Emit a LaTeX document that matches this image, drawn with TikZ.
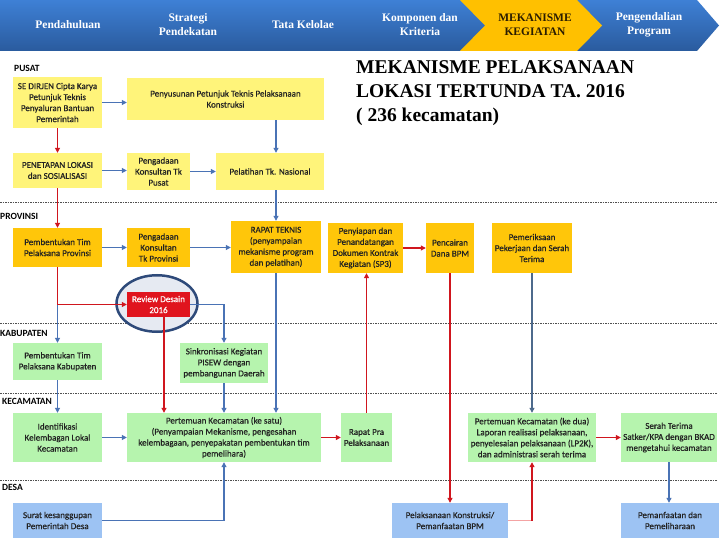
\documentclass[tikz,border=0pt]{standalone}
\usepackage{fontspec}
\setmainfont{Liberation Serif}
\newfontfamily\boxfont{Carlito}
\newfontfamily\boxtxt[FakeBold=0.6]{Carlito}
\usetikzlibrary{arrows.meta,shapes.geometric}
\definecolor{hdtop}{HTML}{3E80D5}
\definecolor{hdbot}{HTML}{2A5B9E}
\definecolor{hdyel}{HTML}{FFC000}
\definecolor{hddark}{HTML}{2B1D00}
\definecolor{cPus}{HTML}{FFF47A}
\definecolor{cProv}{HTML}{FFC60A}
\definecolor{cGrn}{HTML}{B6F4AE}
\definecolor{cDesa}{HTML}{9DC3F3}
\definecolor{cRed}{HTML}{E0141E}
\definecolor{arb}{HTML}{4A73B5}
\definecolor{arg}{HTML}{4D6A8C}
\definecolor{arr}{HTML}{D0161E}
\definecolor{pinkc}{HTML}{F4A3A3}
\definecolor{ellc}{HTML}{2E4A7A}
\definecolor{ellf}{HTML}{E6EAF2}
\definecolor{sepc}{HTML}{505050}
\definecolor{txt}{HTML}{222222}
\begin{document}
\begin{tikzpicture}[x=1pt,y=-1pt,
  bx/.style={inner sep=1pt, align=center, text=txt, font=\boxtxt\fontsize{9}{11}\selectfont},
  tip/.style={-{Triangle[length=5pt,width=5pt]}},
  ab/.style={draw=arb, line width=1.1pt, tip},
  abg/.style={draw=arg, line width=1.1pt, tip},
  ar/.style={draw=arr, line width=1.1pt, tip},
  sepline/.style={draw=sepc, line width=0.8pt, dash pattern=on 1.5pt off 1pt},
  lab/.style={anchor=west, inner sep=0pt, text=black, font=\boxfont\bfseries\fontsize{9.5}{11}\selectfont},
  hd/.style={text=white, align=center, inner sep=0pt, font=\bfseries\fontsize{11.5}{14}\selectfont}
]
\useasboundingbox (0,0) rectangle (720,540);
\fill[white] (0,0) rectangle (720,540);

% header
\shade[top color=hdtop, bottom color=hdbot] (0,0) -- (697,0) -- (719,25.5) -- (697,51) -- (0,51) -- cycle;
\fill[hdyel] (460,0) -- (577,0) -- (602,25.5) -- (577,51) -- (460,51) -- (485,25.5) -- cycle;
\node[hd] (h1) at (68,25) {Pendahuluan};
\node[hd] (h2) at (188,25) {Strategi\\Pendekatan};
\node[hd] (h3) at (303,25) {Tata Kelolae};
\node[hd] (h4) at (420,25) {Komponen dan\\Kriteria};
\node[hd, text=hddark] (h5) at (535,25) {MEKANISME\\KEGIATAN};
\node[hd] (h6) at (649,25) {Pengendalian\\Program};

% title
\node[anchor=north west, inner sep=0pt, align=left, font=\bfseries\fontsize{19.5}{24}\selectfont] (title) at (356,60) {MEKANISME PELAKSANAAN\\LOKASI TERTUNDA TA. 2016\\( 236 kecamatan)};

% separators and level labels
\draw[sepline] (0,202) -- (717,202);
\draw[sepline] (0,323) -- (717,323);
\draw[sepline] (0,393) -- (717,393);
\draw[sepline] (0,480) -- (717,480);
\node[lab] (lpus) at (14,68) {PUSAT};
\node[lab] (lprov) at (0,216) {PROVINSI};
\node[lab] (lkab) at (0,333) {KABUPATEN};
\node[lab] (lkec) at (2,401) {KECAMATAN};
\node[lab] (ldesa) at (2,487) {DESA};

% highlight ellipse
\node[ellipse, draw=ellc, line width=2.5pt, fill=ellf, minimum width=81pt, minimum height=56.5pt, inner sep=0pt] (ell) at (157,303.5) {};

% PUSAT
\node[bx, fill=cPus, minimum width=89pt, minimum height=51pt] (se) at (57.5,102.5) {SE DIRJEN Cipta Karya\\Petunjuk Teknis\\Penyaluran Bantuan\\Pemerintah};
\node[bx, fill=cPus, minimum width=197pt, minimum height=42pt] (pen) at (225.5,99) {Penyusunan Petunjuk Teknis Pelaksanaan\\Konstruksi};
\node[bx, fill=cPus, minimum width=89pt, minimum height=35pt] (penet) at (57.5,170.5) {PENETAPAN LOKASI\\dan SOSIALISASI};
\node[bx, fill=cPus, minimum width=63pt, minimum height=37pt] (pkp) at (158.5,171.5) {Pengadaan\\Konsultan Tk\\Pusat};
\node[bx, fill=cPus, minimum width=108pt, minimum height=37pt] (pel) at (270,171.5) {Pelatihan Tk. Nasional};

% PROVINSI
\node[bx, fill=cProv, minimum width=89pt, minimum height=39pt] (pbp) at (57.5,247.5) {Pembentukan Tim\\Pelaksana Provinsi};
\node[bx, fill=cProv, minimum width=63pt, minimum height=39pt] (pkv) at (158.5,247.5) {Pengadaan\\Konsultan\\Tk Provinsi};
\node[bx, fill=cProv, minimum width=90pt, minimum height=52pt] (rt) at (276,247) {RAPAT TEKNIS\\(penyampaian\\mekanisme program\\dan pelatihan)};
\node[bx, fill=cProv, minimum width=75pt, minimum height=50pt] (spb) at (365.5,248) {Penyiapan dan\\Penandatangan\\Dokumen Kontrak\\Kegiatan (SP3)};
\node[bx, fill=cProv, minimum width=48pt, minimum height=50pt] (pcr) at (450,248) {Pencairan\\Dana BPM};
\node[bx, fill=cProv, minimum width=80pt, minimum height=50pt] (pmk) at (532,248) {Pemeriksaan\\Pekerjaan dan Serah\\Terima};
\node[bx, fill=cRed, text=white, minimum width=63pt, minimum height=25pt] (rev) at (158.5,304.5) {Review Desain\\2016};

% KABUPATEN
\node[bx, fill=cGrn, minimum width=89pt, minimum height=37pt] (pbk) at (57.5,361.5) {Pembentukan Tim\\Pelaksana Kabupaten};
\node[bx, fill=cGrn, minimum width=88pt, minimum height=40pt] (sink) at (224,363) {Sinkronisasi Kegiatan\\PISEW dengan\\pembangunan Daerah};

% KECAMATAN
\node[bx, fill=cGrn, minimum width=89pt, minimum height=49pt] (idf) at (57.5,437.5) {Identifikasi\\Kelembagan Lokal\\Kecamatan};
\node[bx, fill=cGrn, minimum width=194pt, minimum height=49pt] (pk1) at (224,437.5) {Pertemuan Kecamatan (ke satu)\\(Penyampaian Mekanisme, pengesahan\\kelembagaan, penyepakatan pembentukan tim\\pemelihara)};
\node[bx, fill=cGrn, minimum width=51pt, minimum height=49pt] (rpp) at (366.5,437.5) {Rapat Pra\\Pelaksanaan};
\node[bx, fill=cGrn, minimum width=128pt, minimum height=49pt] (pk2) at (532,437.5) {Pertemuan Kecamatan (ke dua)\\Laporan realisasi pelaksanaan,\\penyelesaian pelaksanaan (LP2K),\\dan administrasi serah terima};
\node[bx, fill=cGrn, minimum width=96pt, minimum height=49pt] (srh) at (669,437.5) {Serah Terima\\Satker/KPA dengan BKAD\\mengetahui kecamatan};

% DESA
\node[bx, fill=cDesa, minimum width=89pt, minimum height=35pt] (sur) at (57.5,520.5) {Surat kesanggupan\\Pemerintah Desa};
\node[bx, fill=cDesa, minimum width=116pt, minimum height=35pt] (plk) at (450,520.5) {Pelaksanaan Konstruksi/\\Pemanfaatan BPM};
\node[bx, fill=cDesa, minimum width=98pt, minimum height=35pt] (pmf) at (670,520.5) {Pemanfaatan dan\\Pemeliharaan};

% connectors
\coordinate (rx) at (164,0);
\draw[ab] (se.east) -- (se.east -| pen.west);
\draw[ar] (se.south) -- (penet.north);
\draw[ab] (pen.south -| rt) -- (pel.north -| rt);
\draw[ab] (penet.east) -- (penet.east -| pkp.west);
\draw[ab] (pkp.east) -- (pkp.east -| pel.west);
\draw[ab] (pel.south -| rt) -- (rt.north);
\draw[ar] (penet.south) -- (pbp.north);
\draw[ab] (pbp.east) -- (pkv.west);
\draw[ab] (pkv.east) -- (pkv.east -| rt.west);
\draw[draw=pinkc, line width=1.1pt, -{Triangle[length=5pt,width=5pt,fill=arr]}, arr] (spb.east) -- (spb.east -| pcr.west);
\draw[ab] (pbp.south) -- (pbk.north);
\draw[ar] (pbp.south) |- (rev.west);
\draw[ab] (rev.east) -| (sink.north);
\draw[ar] (rev.south -| rx) -- (pk1.north -| rx);
\draw[ab] (rt.south) -- (rt.south |- pk1.north);
\draw[ab] (sink.south) -- (pk1.north);
\draw[ab] (pbk.south) -- (idf.north);
\draw[ab] (idf.east) -- (pk1.west);
\draw[ar] (pk1.east) -- (rpp.west);
\draw[ar] (rpp.north) -- (rpp.north |- spb.south);
\draw[ar] (pcr.south) -- (plk.north);
\draw[abg] (pmk.south) -- (pk2.north);
\draw[ar] (pk2.east) -- (srh.west);
\draw[ab] (srh.south) -- (srh.south |- pmf.north);
\draw[ab] (sur.east) -| (pk1.south);
\draw[draw=pinkc, line width=1.1pt] (plk.east) -- (plk.east -| pk2.south);
\draw[ar] (plk.east -| pk2.south) -- (pk2.south);
\end{tikzpicture}
\end{document}
